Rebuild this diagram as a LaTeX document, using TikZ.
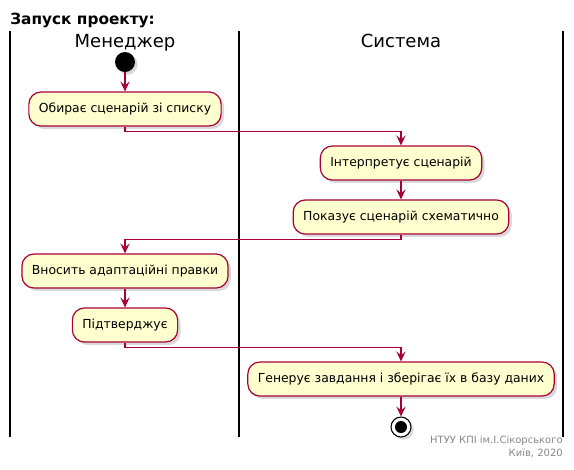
\documentclass[tikz,border=0pt]{standalone}
\usepackage{fontspec}
\setmainfont{DejaVu Sans}
\usetikzlibrary{arrows.meta,shadows}
\definecolor{umlred}{HTML}{A80036}
\definecolor{umlfill}{HTML}{FEFECE}
\definecolor{footgray}{HTML}{888888}
\begin{document}
\begin{tikzpicture}[
        x=0.75pt, y=-0.75pt,
        action/.style={rectangle, rounded corners=9pt, draw=umlred, line width=0.9pt, fill=umlfill,
            minimum height=25.5pt, inner xsep=7.5pt, font=\fontsize{9.3}{11}\selectfont,
            drop shadow={shadow xshift=2.2pt, shadow yshift=-2.2pt, opacity=0.3}},
        flow/.style={draw=umlred, line width=0.8pt, -{Stealth[length=7.5pt,width=7pt,inset=3pt]}},
        lane/.style={line width=1.2pt},
        header/.style={font=\fontsize{13.5}{16}\selectfont},
        foot/.style={anchor=base east, inner sep=0pt, text=footgray, font=\fontsize{7.5}{9}\selectfont}
    ]
        \useasboundingbox (0,0) rectangle (574,469);

        % Заголовок і доріжки
        \node[anchor=base west, inner sep=0pt, font=\fontsize{11.5}{13}\selectfont\bfseries] (title) at (10,24) {Запуск проекту:};
        \draw[lane] (10,31) -- (10,437);
        \draw[lane] (239,31) -- (239,437);
        \draw[lane] (563,31) -- (563,437);
        \node[header, anchor=base] (manager) at (125,47) {Менеджер};
        \node[header, anchor=base] (system) at (401,47) {Система};

        % Вузли діяльності
        \node[circle, fill=black, minimum size=15pt, inner sep=0pt,
            drop shadow={shadow xshift=2pt, shadow yshift=-2pt, opacity=0.3}] (start) at (125,62) {};
        \node[action] (choose) at (125,109) {Обирає сценарій зі списку};
        \node[action] (interp) at (401,163) {Інтерпретує сценарій};
        \node[action] (show) at (401,217) {Показує сценарій схематично};
        \node[action] (adapt) at (125,271) {Вносить адаптаційні правки};
        \node[action] (confirm) at (125,325) {Підтверджує};
        \node[action] (gen) at (401,379) {Генерує завдання і зберігає їх в базу даних};
        \node[circle, draw=black, fill=white, line width=0.8pt, minimum size=15pt, inner sep=0pt,
            drop shadow={shadow xshift=2pt, shadow yshift=-2pt, opacity=0.3}] (stop) at (401,427) {};
        \node[circle, fill=black, minimum size=9pt, inner sep=0pt] (stopdot) at (stop) {};

        % Переходи
        \draw[flow] (start) -- (choose);
        \draw[flow] (choose.south) -- ++(0,5) -| (interp.north);
        \draw[flow] (interp) -- (show);
        \draw[flow] (show.south) -- ++(0,5) -| (adapt.north);
        \draw[flow] (adapt) -- (confirm);
        \draw[flow] (confirm.south) -- ++(0,5) -| (gen.north);
        \draw[flow] (gen) -- (stop);

        % Підпис
        \node[foot] (org) at (563,443) {НТУУ КПІ ім.І.Сікорського};
        \node[foot] (city) at (563,456.5) {Київ, 2020};
    \end{tikzpicture}
\end{document}
